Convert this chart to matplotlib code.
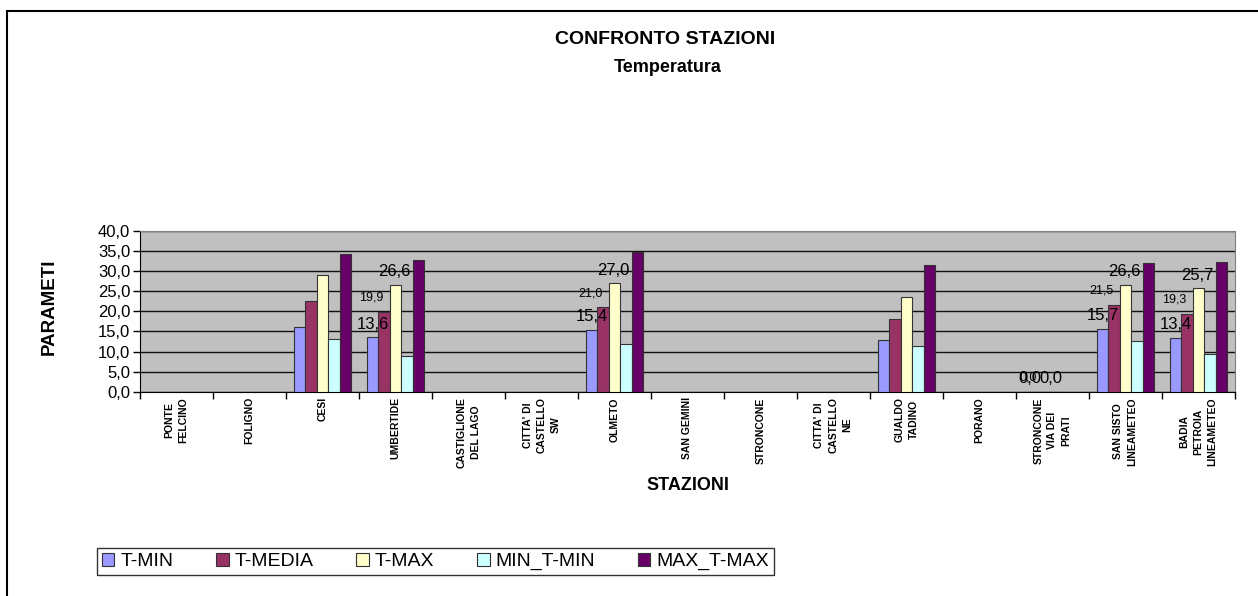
import matplotlib
matplotlib.use("Agg")
import matplotlib.pyplot as plt
import matplotlib.patches as patches
import numpy as np

plt.rcParams['font.family'] = ['Liberation Sans', 'DejaVu Sans']

# stazioni (etichette asse x, a capo come nel grafico)
stazioni = ["PONTE\nFELCINO", "FOLIGNO", "CESI", "UMBERTIDE", "CASTIGLIONE\nDEL LAGO",
            "CITTA' DI\nCASTELLO\nSW", "OLMETO", "SAN GEMINI", "STRONCONE",
            "CITTA' DI\nCASTELLO\nNE", "GUALDO\nTADINO", "PORANO",
            "STRONCONE\nVIA DEI\nPRATI", "SAN SISTO\nLINEAMETEO",
            "BADIA\nPETROIA\nLINEAMETEO"]

nan = np.nan
t_min = [nan, nan, 16.0, 13.6, nan, nan, 15.4, nan, nan, nan, 12.9, nan, 0.0, 15.7, 13.4]
t_media = [nan, nan, 22.6, 19.9, nan, nan, 21.0, nan, nan, nan, 18.2, nan, 0.0, 21.5, 19.3]
t_max = [nan, nan, 29.0, 26.6, nan, nan, 27.0, nan, nan, nan, 23.5, nan, 0.0, 26.6, 25.7]
min_t_min = [nan, nan, 13.0, 8.9, nan, nan, 11.8, nan, nan, nan, 11.4, nan, nan, 12.6, 9.5]
max_t_max = [nan, nan, 34.4, 32.7, nan, nan, 34.8, nan, nan, nan, 31.5, nan, nan, 32.0, 32.3]

serie = ["T-MIN", "T-MEDIA", "T-MAX", "MIN_T-MIN", "MAX_T-MAX"]
colori = ["#9999FF", "#993366", "#FFFFCC", "#CCFFFF", "#660066"]
valori = [t_min, t_media, t_max, min_t_min, max_t_max]

# stazioni con etichette dati (T-MIN, T-MEDIA, T-MAX)
con_etichette = [3, 6, 12, 13, 14]

fig = plt.figure(figsize=(12.58, 5.96), dpi=100)
ax = fig.add_axes([0.1113, 0.3428, 0.8704, 0.2696])
ax.set_facecolor("#C0C0C0")

x = np.arange(len(stazioni))
w = 0.156
for i, (nome, col, v) in enumerate(zip(serie, colori, valori)):
    ax.bar(x + (i - 2) * w, v, width=w, color=col, edgecolor="#333333",
           linewidth=0.8, label=nome, zorder=3)

def fmt(v):
    return ("%.1f" % v).replace(".", ",")

for k in con_etichette:
    ax.annotate(fmt(t_min[k]), (x[k] - 2 * w, t_min[k]), xytext=(0, 4),
                textcoords="offset points", ha="center", va="bottom",
                fontsize=12, zorder=5)
    ax.annotate(fmt(t_media[k]), (x[k] - w, t_media[k]), xytext=(-9, 6),
                textcoords="offset points", ha="center", va="bottom",
                fontsize=9, zorder=5)
    ax.annotate(fmt(t_max[k]), (x[k], t_max[k]), xytext=(-1, 4),
                textcoords="offset points", ha="center", va="bottom",
                fontsize=12, zorder=5)

ax.set_xlim(-0.5, len(stazioni) - 0.5)
ax.set_ylim(0, 40)
ax.set_yticks(np.arange(0, 41, 5))
ax.set_yticklabels([fmt(v) for v in np.arange(0, 41, 5)], fontsize=12)
ax.yaxis.grid(True, color="#111111", linewidth=1.0, zorder=1)
ax.set_axisbelow(True)

ax.set_xticks(np.arange(-0.5, len(stazioni), 1.0))
ax.set_xticklabels([])
ax.tick_params(axis="x", which="major", length=5, direction="out", width=1)
ax.set_xticks(x, minor=True)
ax.set_xticklabels(stazioni, minor=True, rotation=90, fontsize=7.5,
                   fontweight="bold", va="top", ha="center",
                   multialignment="center", linespacing=1.5)
ax.tick_params(axis="x", which="minor", length=0, pad=4)
ax.tick_params(axis="y", length=5, direction="out", width=1, pad=2)

for s in ["top", "right"]:
    ax.spines[s].set_color("#808080")
ax.spines["left"].set_color("black")
ax.spines["bottom"].set_color("black")

ax.set_ylabel("PARAMETI", fontsize=13.5, fontweight="bold")
ax.yaxis.set_label_coords(-0.075, 0.53)
ax.set_xlabel("STAZIONI", fontsize=13, fontweight="bold")
ax.xaxis.set_label_coords(0.5, -0.53)

fig.text(0.529, 0.933, "CONFRONTO STAZIONI", ha="center", va="center",
         fontsize=14, fontweight="bold")
fig.text(0.531, 0.886, "Temperatura", ha="center", va="center",
         fontsize=13, fontweight="bold")

leg = fig.legend(loc="lower left", bbox_to_anchor=(0.077, 0.035), ncol=5,
                 fontsize=14, frameon=True, fancybox=False, edgecolor="black",
                 handlelength=0.65, handleheight=0.65, handletextpad=0.3,
                 columnspacing=2.2, borderpad=0.25, borderaxespad=0)
leg.get_frame().set_linewidth(1.0)

# cornice del grafico
fig.patches.append(patches.Rectangle((7 / 1258, -0.1), 1.1, (596 - 11) / 596 + 0.1,
                                     transform=fig.transFigure, fill=False,
                                     edgecolor="black", linewidth=1.5))

fig.savefig("out.png", dpi=100)
